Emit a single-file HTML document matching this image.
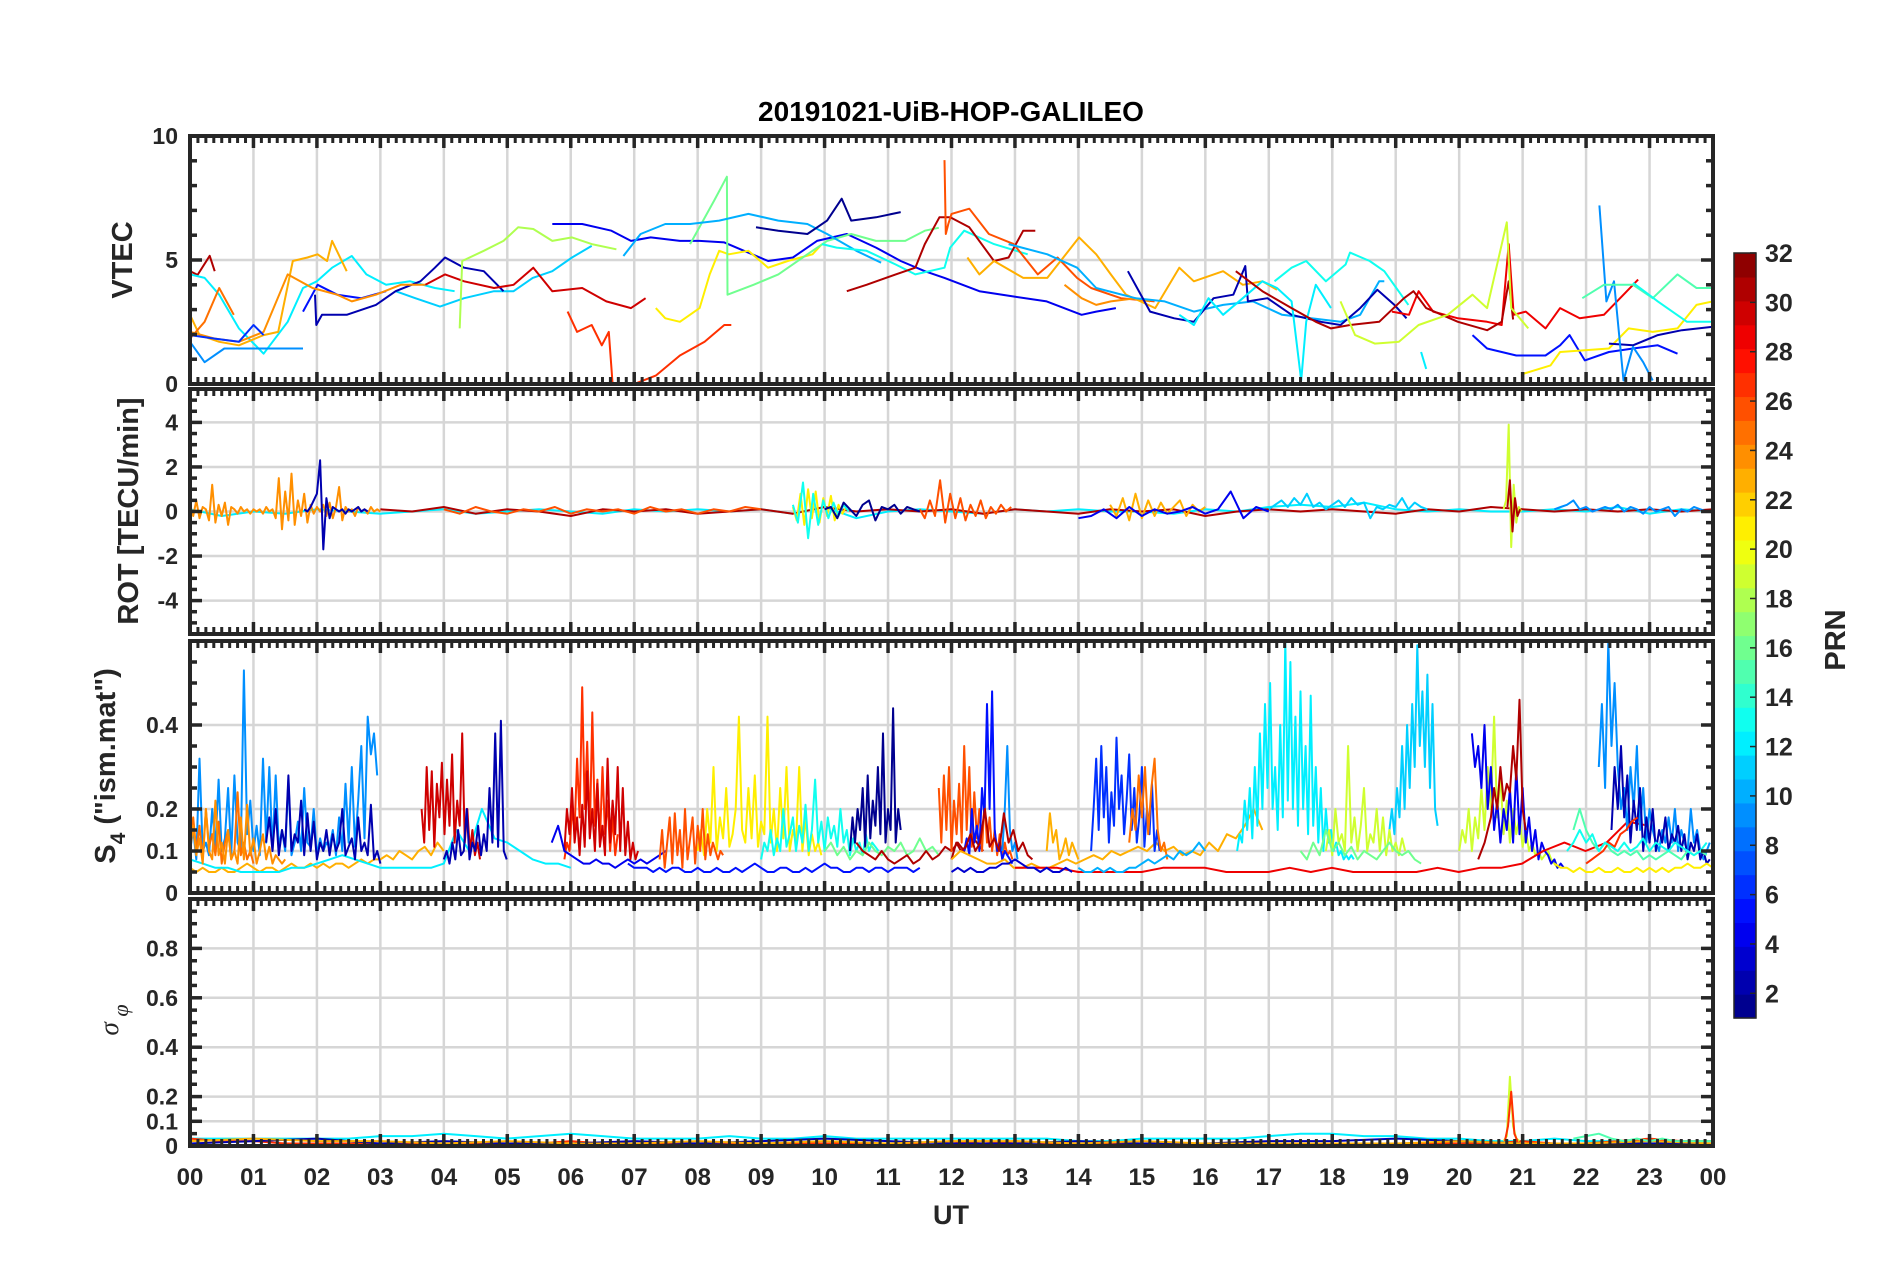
<!DOCTYPE html>
<html><head><meta charset="utf-8"><style>
html,body{margin:0;padding:0;background:#fff;}
svg{display:block;font-family:"Liberation Sans",Arial,sans-serif;}
</style></head><body>
<svg id="fig" width="1902" height="1272" viewBox="0 0 1902 1272"></svg>
<script>
// ---------- DATA ----------
const hourLabels = ["00","01","02","03","04","05","06","07","08","09","10","11","12","13","14","15","16","17","18","19","20","21","22","23","00"];
const vtecTicks = [0,5,10];
const rotTicks = [-4,-2,0,2,4];
const s4Ticks = [0,0.1,0.2,0.4];
const phiTicks = [0,0.1,0.2,0.4,0.6,0.8];
const cbTicks = [2,4,6,8,10,12,14,16,18,20,22,24,26,28,30,32];

const vtecPRN = [31,12,11,2,5,23,25,24,9,6,30,18,4,27,21,16,10,1,13,31,26,23,24,10,2,12,13,29,31,19,5,21,2,9,15,13,12];
const vtecTimes = [
[0,0.12,0.31,0.39],
[0,0.23,0.46,0.77,1.16,1.54,1.78,2.0,2.24,2.55,2.78,3.09,3.47,3.86,4.17],
[3.24,3.55,3.94,4.32,4.79,5.1,5.4,5.71,6.02,6.33],
[1.97,1.99,2.08,2.47,2.93,3.24,3.63,3.86,4.02,4.32,4.63,4.94],
[1.78,2.01,2.32,2.7,3.09],
[0,0.15,0.46,0.77,1.16,1.39,1.62,1.85,2.01,2.16,2.24,2.47],
[0,0.23,0.46,0.69],
[0,0.39,0.77,1.16,1.54,1.93,2.32,2.55,2.93,3.32,3.71],
[0,0.23,0.54,0.93,1.31,1.78],
[0,0.39,0.77,1.0,1.16],
[3.71,4.02,4.32,4.79,5.1,5.41,5.71,6.18,6.56,6.95,7.18],
[4.25,4.29,4.63,4.94,5.17,5.41,5.71,6.02,6.33,6.72],
[5.71,6.18,6.64,6.95,7.26,7.72,8.03,8.42,8.73,9.11,9.5,9.88,10.35,10.81,11.2,11.58,11.89,12.44,12.98,13.5,14.05,14.28,14.59],
[5.95,6.1,6.33,6.49,6.6,6.66,7.0,7.34,7.72,8.11,8.42,8.53],
[7.34,7.49,7.72,8.03,8.19,8.34,8.49,8.8,9.11,9.42,9.81,9.96],
[7.88,8.26,8.46,8.47,8.88,9.27,9.73,10.04,10.42,10.81,11.27,11.58,11.8],
[6.83,7.1,7.49,7.88,8.34,8.8,9.27,9.73,10.04,10.5,10.89],
[8.92,9.27,9.73,10.04,10.27,10.42,10.81,11.2],
[9.96,10.19,10.66,11.12,11.43,11.89,11.98,12.2,12.67,13.2],
[10.35,10.66,11.12,11.43,11.58,11.81,11.98,12.28,12.67,12.9,13.13,13.32],
[11.89,11.91,11.95,12.0,12.28,12.59,12.98,13.36,13.67,13.98,14.2,14.67,15.2],
[12.25,12.44,12.67,13.13,13.51,14.01,14.28,14.51,14.75,15.21,15.59,15.82,16.28,16.59,16.9,17.13],
[13.78,14.05,14.28,14.51,14.9,15.13],
[12.9,13.51,13.98,14.28,14.9,15.36,15.82,16.28,16.75,17.21,17.67,18.13,18.44,18.74,18.82],
[14.78,15.13,15.51,15.82,16.13,16.44,16.63,16.67,16.98,17.36,17.82,18.13,18.44,18.71,18.98,19.17],
[15.59,15.82,16.05,16.28,16.59,16.9,17.13,17.36,17.51,17.59,17.74,17.98],
[17.09,17.36,17.59,17.9,18.21,18.28,18.59,18.82,19.2],
[18.94,19.21,19.36,19.59,19.98,20.44,20.67,20.78,20.86,21.05,21.36,21.59,21.9,22.28,22.59,22.82],
[16.48,16.9,17.36,17.74,17.98,18.28,18.74,19.13,19.28,19.48,19.98,20.44,20.67,20.78,20.85],
[18.13,18.36,18.67,19.05,19.36,19.82,20.21,20.44,20.75,20.82,21.09],
[20.21,20.44,20.9,21.36,21.59,21.74,21.98,22.36,22.74,23.13,23.44],
[21.01,21.44,21.59,21.98,22.36,22.67,23.05,23.44,23.74,24],
[22.36,22.74,23.13,23.51,24],
[22.21,22.32,22.44,22.59,22.74,22.9,23.05],
[21.94,22.28,22.74,23.05,23.44,23.74,24],
[22.74,23.13,23.59,24],
[19.4,19.48]
];
const vtecVals = [
[4.55,4.4,5.17,4.55],
[4.42,4.28,3.6,2.24,1.22,2.51,3.87,4.14,4.69,5.16,4.42,4.0,4.14,3.87,3.74],
[3.74,3.46,3.12,3.46,3.74,3.74,4.28,4.55,5.1,5.57],
[3.6,2.38,2.79,2.79,3.19,3.74,4.14,4.69,5.1,4.69,4.55,3.74],
[2.92,4.0,3.6,3.46,3.74],
[2.79,1.97,1.7,1.56,1.97,2.1,4.96,5.1,5.23,4.96,5.77,4.55],
[1.83,2.51,3.87,2.79],
[2.1,1.83,1.7,2.1,4.42,3.87,3.6,3.33,3.6,4.0,4.0],
[1.7,0.88,1.43,1.43,1.43,1.43],
[1.97,1.83,1.7,2.38,1.97],
[4.0,4.42,4.14,3.87,4.0,4.69,3.74,3.87,3.33,3.06,3.46],
[2.24,4.96,5.37,5.77,6.32,6.25,5.77,5.91,5.64,5.43],
[6.45,6.45,6.18,5.77,5.91,5.77,5.77,5.71,5.37,4.96,5.1,5.77,6.05,5.5,4.96,4.55,4.28,3.74,3.53,3.33,2.79,2.92,3.06],
[2.92,2.1,2.38,1.56,2.1,0,0,0.34,1.15,1.7,2.38,2.38],
[3.06,2.65,2.51,3.06,4.42,5.37,5.23,5.37,4.69,4.96,5.23,5.64],
[5.64,7.4,8.36,3.6,4.0,4.42,5.23,5.77,6.05,5.77,5.77,6.18,6.3],
[5.16,6.05,6.45,6.45,6.59,6.86,6.59,6.45,6.05,5.37,4.89],
[6.32,6.18,6.05,6.59,7.47,6.59,6.72,6.93],
[5.64,5.5,5.37,4.82,4.42,4.69,5.5,6.18,5.64,5.23],
[3.74,4.0,4.42,4.69,5.64,6.72,6.72,6.32,4.96,5.1,6.18,6.18],
[9.03,6.05,6.45,6.86,7.07,6.05,5.64,4.42,5.1,4.28,3.87,3.46,3.33],
[5.1,4.42,4.96,4.28,4.28,5.91,5.23,4.42,3.6,3.06,4.69,4.14,4.55,4.0,4.14,3.8],
[4.0,3.46,3.19,3.33,3.46,3.33],
[5.64,5.23,4.69,3.87,3.46,3.33,2.92,3.19,3.33,2.79,2.65,2.51,2.79,4.14,4.14],
[4.55,2.92,2.65,2.51,3.46,3.6,4.76,3.33,3.46,2.79,2.51,2.38,3.06,3.8,3.19,2.65],
[2.79,2.38,3.46,2.79,3.46,4.14,3.87,3.33,0.14,2.51,4.0,3.06],
[4.14,4.69,4.96,4.14,4.82,5.3,4.96,4.55,3.19],
[2.92,2.79,3.74,2.92,2.65,2.51,2.38,5.64,2.79,2.92,2.24,3.06,2.65,2.79,3.6,4.21],
[4.55,3.74,3.06,2.51,2.24,2.38,2.51,3.46,3.74,3.06,2.51,2.17,2.51,4.14,2.6],
[3.33,1.97,1.63,1.7,2.38,2.79,3.6,3.06,6.52,3.06,2.24],
[1.97,1.43,1.15,1.15,1.56,1.97,0.95,1.29,1.43,1.56,1.22],
[0.41,0.75,1.29,1.36,1.43,2.24,2.1,2.24,3.19,3.33],
[1.63,1.56,1.97,2.17,2.31],
[7.2,3.33,4.14,0.14,1.5,0.88,0.14],
[3.46,4.0,4.0,3.46,4.42,3.87,3.87],
[4.08,3.33,2.51,2.51],
[1.29,0.61]
];

const rotPRN = [12,31,26,24,2,21,13,26,23,4,11,9,1,19,31];
const rotStart = [0,3,4,0,1.8,9.5,9.5,11.5,14.5,14,17,21.5,10,20.7,20.76];
const rotStep = [0.5,0.5,0.25,0.05,0.05,0.06,0.08,0.08,0.1,0.2,0.1,0.1,0.1,0.04,0.04];
const rotVals = [
[0.1,-0.2,0,-0.1,0.1,0,-0.1,0,0.1,-0.1,0,0.1,0,-0.1,0.1,0,0.1,0,0.1,-0.1,0.2,-0.3,0,0.1,0,-0.1,0.1,0,0.1,0,0,-0.1,0.1,0,0.2,0.3,0.2,0.4,0.1,0,0.1,0,0,0.1,0,0.2,-0.1,0.1,0],
[0.1,0,0.2,-0.1,0.1,0,-0.2,0.1,0,0.1,-0.1,0,0.1,-0.1,0.2,0,0.1,0,0.1,-0.1,0.1,0,-0.1,0.1,0,0.1,-0.2,0,0.1,0,0.1,0,-0.1,0.1,0,0.2,0.1,0,0.1,0,0.1,0,0.1],
[0.1,-0.1,0.2,0,-0.1,0.1,0,0.2,-0.1,0.1,0,0.1,-0.1,0.2,0,0.1,-0.1,0.1,0,0.2,0.1],
[0.3,-0.2,0.5,-0.3,0.2,0.1,-0.4,1.2,-0.5,0.3,-0.2,0.4,-0.6,0.2,0.1,-0.1,0.2,0,0.1,-0.1,0.1,0,0.1,-0.1,0.2,0,0.1,-0.3,1.5,-0.8,0.9,-0.4,1.7,-0.6,0.5,-0.2,0.8,-0.5,0.3,-0.1,0.2,0,0.3,-0.2,0.4,-0.3,0.2,1.1,-0.4,0.2,0,0.1,-0.2,0.2,0,0.1,-0.1,0.2,0,0.1,0],
[0.1,0,0.2,0.5,0.8,2.3,-1.7,0.6,-0.3,0.2,0.1,0,0.1,-0.1,0.1,0,0.1,0.2,0,0.1,0],
[0.2,-0.4,0.8,-0.6,1.0,-0.3,0.9,-0.5,0.6,-0.2,0.7,-0.4,0.3,-0.1,0.2],
[0.3,-0.5,1.3,-1.2,0.8,-0.6,0.5,-0.3,0.4,-0.2,0.3,0],
[0.1,-0.3,0.5,-0.2,1.4,-0.5,0.8,-0.3,0.6,-0.4,0.3,-0.2,0.5,-0.3,0.2,-0.1,0.3,0,0.2],
[0.3,-0.2,0.6,-0.4,0.8,-0.3,0.5,-0.2,0.4,-0.1,0.2,0.5,-0.2,0.3,0,0.2],
[-0.3,-0.2,0.1,-0.3,0.2,-0.2,0.1,-0.1,0,0.2,-0.1,0.1,0.9,-0.3,0.2,0],
[0.1,0.3,0.5,0.2,0.6,0.3,0.8,0.2,0.4,0.1,0.3,0.5,0.2,0.6,0.3,0.4,-0.3,0.2,0.1,0.3,0.2,0.6,0.1,0.4,0.2,0.1],
[0.1,0.2,0.3,0.5,0.1,0.2,0,0.1,0.2,0.1,0.3,0,0.2,0.1,-0.1,0.2,0,0.1,0.2,-0.2,0.1,0,0.2,0.1,0],
[0.1,0.2,-0.3,0.4,0.1,-0.2,0.3,0.5,-0.4,0.2,0.1,0.3,-0.1,0.2,0.1,0],
[0.1,0.5,3.9,-1.6,1.2,-0.5,0.2,0],
[0.2,1.4,-0.9,0.6,-0.2,0.1]
];

const s4PRN = [23,12,9,2,25,24,30,2,27,30,4,21,26,13,1,16,31,5,26,5,9,31,23,23,6,25,12,11,19,19,4,31,29,9,2,15,21,27,10,3,13,16];
const s4Start = [0,0,0,1.2,0,0,3.65,4.0,5.9,5.9,5.7,8.0,7.4,9.0,10.4,10.0,10.5,6.9,11.8,12.2,12.8,12.0,13.5,12.0,14.2,14.8,16.5,18.9,17.9,20.0,20.2,20.3,13,22.2,22.4,21.8,21.5,22.0,14.0,12.0,21.7,17.5];
const s4Step = [0.1,0.2,0.05,0.05,0.05,0.05,0.04,0.045,0.04,0.04,0.1,0.05,0.04,0.05,0.04,0.1,0.1,0.1,0.04,0.04,0.04,0.075,0.05,0.14,0.04,0.05,0.04,0.04,0.05,0.05,0.05,0.05,0.333,0.05,0.05,0.1,0.1,0.09,0.1,0.1,0.1,0.1];
const s4Vals = [
[0.06,0.05,0.06,0.05,0.05,0.06,0.05,0.05,0.06,0.07,0.06,0.05,0.06,0.06,0.05,0.06,0.07,0.06,0.06,0.07,0.06,0.07,0.06,0.07,0.07,0.06,0.07,0.08,0.07,0.08,0.08,0.09,0.08,0.1,0.09,0.08,0.1,0.11,0.09,0.12,0.1],
[0.08,0.07,0.06,0.06,0.05,0.05,0.05,0.05,0.06,0.06,0.07,0.08,0.09,0.08,0.07,0.06,0.06,0.06,0.06,0.06,0.07,0.15,0.1,0.2,0.13,0.12,0.1,0.08,0.07,0.07,0.06],
[0.1,0.15,0.08,0.32,0.1,0.12,0.09,0.2,0.11,0.27,0.1,0.13,0.25,0.09,0.28,0.12,0.1,0.53,0.14,0.22,0.1,0.16,0.09,0.32,0.12,0.3,0.1,0.28,0.11,0.15,0.1,0.27,0.09,0.12,0.17,0.1,0.25,0.12,0.11,0.2,0.09,0.13,0.1,0.12,0.11,0.15,0.09,0.18,0.1,0.26,0.12,0.3,0.11,0.22,0.35,0.13,0.42,0.33,0.38,0.28],
[0.12,0.18,0.1,0.2,0.09,0.15,0.11,0.28,0.1,0.14,0.12,0.22,0.09,0.19,0.1,0.17,0.08,0.12,0.1,0.15,0.09,0.14,0.1,0.12,0.2,0.09,0.11,0.13,0.08,0.18,0.1,0.12,0.09,0.21,0.08,0.1,0.07],
[0.12,0.18,0.1,0.16,0.08,0.2,0.11,0.14,0.09,0.17,0.07,0.12,0.15,0.08,0.1,0.24,0.09,0.12,0.08,0.1,0.07],
[0.1,0.16,0.09,0.13,0.07,0.2,0.1,0.08,0.22,0.09,0.12,0.07,0.15,0.08,0.1,0.07,0.18,0.08,0.21,0.09,0.13,0.07,0.1,0.14,0.08,0.11,0.07,0.09,0.08,0.07,0.08],
[0.2,0.12,0.3,0.15,0.29,0.11,0.26,0.18,0.31,0.14,0.27,0.16,0.33,0.12,0.22,0.16,0.38,0.12,0.2,0.1,0.15,0.09,0.12,0.08],
[0.08,0.1,0.07,0.12,0.08,0.15,0.09,0.1,0.2,0.08,0.12,0.1,0.16,0.09,0.14,0.1,0.25,0.12,0.38,0.11,0.41,0.1,0.08],
[0.08,0.12,0.1,0.2,0.15,0.32,0.18,0.49,0.2,0.36,0.14,0.43,0.16,0.27,0.12,0.3,0.14,0.22,0.1,0.18,0.09,0.14],
[0.1,0.2,0.14,0.25,0.12,0.18,0.09,0.21,0.11,0.29,0.13,0.2,0.1,0.26,0.11,0.16,0.09,0.32,0.12,0.22,0.14,0.3,0.1,0.25,0.09,0.17,0.08,0.12,0.08,0.1],
[0.12,0.16,0.1,0.09,0.08,0.07,0.07,0.08,0.07,0.07,0.06,0.07,0.08,0.07,0.08,0.07,0.08,0.09,0.1],
[0.1,0.15,0.09,0.2,0.12,0.3,0.1,0.18,0.13,0.25,0.11,0.14,0.2,0.42,0.15,0.12,0.25,0.13,0.28,0.11,0.17,0.14,0.42,0.12,0.2,0.1,0.25,0.13,0.3,0.1,0.15,0.12,0.3,0.1,0.18,0.09,0.14,0.1,0.12,0.09],
[0.08,0.15,0.06,0.12,0.18,0.07,0.19,0.09,0.15,0.06,0.2,0.08,0.13,0.18,0.07,0.16,0.1,0.2,0.08,0.14,0.09,0.12,0.1,0.08,0.1,0.09],
[0.08,0.12,0.1,0.15,0.09,0.13,0.1,0.2,0.11,0.14,0.18,0.1,0.16,0.12,0.21,0.1,0.15,0.27,0.12,0.17,0.1,0.18,0.13,0.16,0.11,0.2,0.12,0.15,0.09,0.13,0.1,0.12,0.09,0.14,0.1,0.12,0.11,0.1],
[0.1,0.18,0.12,0.2,0.15,0.25,0.11,0.28,0.13,0.22,0.16,0.3,0.14,0.38,0.12,0.2,0.15,0.44,0.12,0.2,0.15],
[0.1,0.12,0.09,0.11,0.08,0.1,0.09,0.12,0.1,0.09,0.11,0.1,0.12,0.09,0.1,0.13,0.1,0.11,0.09],
[0.12,0.1,0.09,0.08,0.1,0.08,0.07,0.08,0.09,0.07,0.08,0.1,0.08,0.09,0.11,0.1,0.12,0.1,0.14,0.12,0.1],
[0.07,0.06,0.06,0.06,0.05,0.06,0.05,0.06,0.06,0.05,0.05,0.06,0.05,0.05,0.06,0.05,0.05,0.06,0.05,0.06,0.07,0.06,0.05,0.05,0.06,0.06,0.05,0.05,0.06,0.05,0.06,0.07,0.06,0.06,0.05,0.05,0.06,0.06,0.05,0.06,0.06,0.05,0.06,0.06,0.06,0.05,0.06],
[0.25,0.12,0.28,0.15,0.3,0.1,0.22,0.14,0.26,0.12,0.35,0.15,0.3,0.11,0.24,0.13,0.2,0.1,0.22,0.12,0.18,0.1,0.15,0.09,0.14,0.08,0.12,0.09,0.1,0.08],
[0.1,0.13,0.09,0.2,0.12,0.16,0.1,0.25,0.18,0.45,0.2,0.48,0.15,0.1,0.12,0.08,0.1,0.09,0.08,0.07],
[0.1,0.2,0.35,0.15,0.1,0.12,0.08],
[0.08,0.12,0.1,0.11,0.14,0.1,0.12,0.2,0.11,0.13,0.1,0.19,0.12,0.15,0.1,0.12,0.09,0.08],
[0.1,0.19,0.12,0.15,0.08,0.1,0.13,0.09,0.12,0.1,0.08],
[0.08,0.1,0.09,0.08,0.07,0.07,0.08,0.06,0.06,0.07,0.06,0.06,0.07,0.08,0.07,0.08,0.09,0.08,0.1,0.09,0.1,0.11,0.1,0.12,0.1,0.11,0.09,0.1,0.09,0.12,0.1,0.14,0.13,0.16,0.2,0.15],
[0.1,0.2,0.32,0.15,0.35,0.18,0.3,0.12,0.24,0.16,0.37,0.2,0.28,0.14,0.22,0.33,0.15,0.25,0.12,0.18,0.3,0.11,0.2,0.14,0.26,0.1,0.15,0.1],
[0.12,0.2,0.15,0.28,0.18,0.3,0.14,0.25,0.32,0.15,0.1,0.12,0.08],
[0.1,0.14,0.12,0.22,0.15,0.25,0.13,0.3,0.16,0.38,0.2,0.45,0.25,0.5,0.2,0.3,0.15,0.4,0.18,0.6,0.22,0.55,0.2,0.42,0.16,0.48,0.2,0.35,0.14,0.47,0.16,0.3,0.12,0.25,0.1,0.2,0.12,0.15,0.1,0.12,0.09,0.1,0.08,0.09,0.08,0.09,0.08],
[0.15,0.2,0.14,0.25,0.18,0.35,0.2,0.4,0.25,0.45,0.3,0.59,0.35,0.48,0.3,0.52,0.25,0.45,0.2,0.16],
[0.1,0.15,0.09,0.2,0.12,0.14,0.1,0.35,0.12,0.18,0.1,0.16,0.25,0.1,0.14,0.12,0.2,0.1,0.18,0.09,0.15,0.1,0.12,0.09,0.13,0.1],
[0.1,0.15,0.12,0.2,0.1,0.18,0.13,0.25,0.15,0.3,0.2,0.42,0.18,0.28,0.14,0.22,0.12,0.2,0.14,0.18,0.11,0.15,0.1,0.12,0.09,0.1,0.08,0.09,0.1,0.08,0.07,0.06],
[0.38,0.3,0.35,0.25,0.4,0.2,0.3,0.15,0.22,0.12,0.2,0.15,0.25,0.12,0.3,0.14,0.25,0.12,0.18,0.1,0.15,0.08,0.12,0.1,0.09,0.07,0.08,0.06,0.07,0.06],
[0.08,0.1,0.12,0.15,0.18,0.25,0.2,0.3,0.22,0.26,0.24,0.35,0.27,0.46,0.2,0.15],
[0.06,0.06,0.06,0.05,0.05,0.05,0.05,0.06,0.06,0.06,0.05,0.05,0.05,0.06,0.05,0.06,0.05,0.05,0.05,0.05,0.06,0.05,0.06,0.06,0.07,0.1,0.12,0.1,0.12,0.17,0.16],
[0.3,0.45,0.25,0.6,0.35,0.5,0.3,0.2,0.25,0.15,0.3,0.2,0.35,0.15,0.25,0.12,0.2,0.15,0.12,0.1,0.15,0.12,0.18,0.12,0.2,0.1,0.15,0.12,0.1,0.2,0.12,0.15,0.1,0.08,0.1,0.12],
[0.15,0.3,0.2,0.35,0.18,0.28,0.12,0.22,0.15,0.25,0.1,0.18,0.12,0.2,0.1,0.15,0.12,0.18,0.1,0.14,0.12,0.16,0.1,0.14,0.08,0.12,0.1,0.14,0.08,0.1,0.07,0.08],
[0.15,0.2,0.15,0.12,0.1,0.12,0.1,0.09,0.1,0.09,0.1,0.08,0.09,0.08,0.09,0.1,0.09,0.08,0.1,0.09,0.1,0.09],
[0.07,0.06,0.06,0.05,0.06,0.05,0.05,0.06,0.05,0.05,0.06,0.05,0.05,0.06,0.05,0.06,0.05,0.06,0.05,0.06,0.06,0.07,0.06,0.06,0.07,0.06],
[0.07,0.08,0.09,0.1,0.12,0.11,0.14,0.15,0.17,0.18],
[0.06,0.05,0.05,0.06,0.05,0.06,0.05,0.05,0.06,0.06,0.07,0.08,0.07,0.08,0.09,0.08,0.1,0.09,0.1,0.12,0.1],
[0.05,0.06,0.05,0.06,0.05,0.05,0.06,0.06,0.07,0.07,0.08,0.07,0.06,0.06,0.05,0.06,0.05,0.05,0.06,0.05],
[0.1,0.12,0.15,0.12,0.14,0.1,0.12,0.11,0.1,0.12,0.1,0.11,0.13,0.1,0.12,0.11,0.1,0.12,0.11,0.1,0.09,0.1,0.12],
[0.1,0.08,0.12,0.09,0.15,0.1,0.12,0.09,0.11,0.08,0.1,0.09,0.08,0.1,0.12,0.1,0.09,0.1,0.08,0.07]
];

const phiPRN = [12,27,2,23,15,19,27];
const phiStart = [0,0,0,0,21.8,20.7,20.72];
const phiStep = [0.5,0.5,1,1,0.2,0.05,0.05];
const phiVals = [
[0.03,0.03,0.03,0.03,0.03,0.03,0.04,0.04,0.05,0.04,0.03,0.04,0.05,0.04,0.03,0.03,0.03,0.04,0.03,0.03,0.04,0.03,0.03,0.03,0.03,0.03,0.03,0.03,0.02,0.02,0.03,0.03,0.03,0.03,0.04,0.05,0.05,0.04,0.04,0.03,0.03,0.02,0.02,0.03,0.02,0.02,0.02,0.02,0.02],
[0.03,0.02,0.02,0.01,0.01,0.01,0.01,0.01,0.01,0.01,0.01,0.01,0.02,0.01,0.01,0.01,0.01,0.01,0.01,0.01,0.01,0.01,0.01,0.01,0.02,0.01,0.02,0.01,0.01,0.01,0.01,0.01,0.01,0.01,0.01,0.01,0.01,0.01,0.01,0.01,0.01,0.01,0.02,0.01,0.01,0.02,0.03,0.02,0.02],
[0.01,0.02,0.03,0.01,0.02,0.01,0.01,0.02,0.01,0.02,0.03,0.02,0.01,0.01,0.02,0.01,0.01,0.02,0.02,0.03,0.02,0.01,0.01,0.01,0.01],
[0.02,0.03,0.02,0.02,0.01,0.02,0.01,0.01,0.02,0.01,0.02,0.01,0.02,0.02,0.01,0.02,0.01,0.01,0.01,0.01,0.02,0.01,0.01,0.02,0.01],
[0.03,0.04,0.05,0.03,0.02,0.03,0.02,0.03,0.02,0.02,0.02,0.02],
[0.02,0.04,0.28,0.08,0.03,0.02],
[0.02,0.08,0.22,0.05,0.02]
];

// ---------- LAYOUT ----------
const NS = "http://www.w3.org/2000/svg";
const svg = document.getElementById('fig');
const X0 = 190, X1 = 1713;
const panels = [
  {key:'vtec', top:136, bot:384, ymin:0, ymax:10, ticks:vtecTicks, minor:1, grid:[5]},
  {key:'rot', top:389, bot:634, ymin:-5.5, ymax:5.5, ticks:rotTicks, minor:0.5, grid:[-4,-2,0,2,4]},
  {key:'s4', top:641, bot:893, ymin:0, ymax:0.6, ticks:s4Ticks, minor:0.05, grid:[0.1,0.2,0.4]},
  {key:'phi', top:899, bot:1146, ymin:0, ymax:1, ticks:phiTicks, minor:0.05, grid:[0.1,0.2,0.4,0.6,0.8]}
];
const xs = h => X0 + (X1 - X0) * h / 24;
function ys(p, v){ return p.bot - (p.bot - p.top) * (v - p.ymin) / (p.ymax - p.ymin); }

function jet(i, n){
  const v = (i + 0.5) / n;
  const f = t => Math.max(0, Math.min(1, t));
  const r = f(Math.min(4*v - 1.5, -4*v + 4.5));
  const g = f(Math.min(4*v - 0.5, -4*v + 3.5));
  const b = f(Math.min(4*v + 0.5, -4*v + 2.5));
  return `rgb(${Math.round(r*255)},${Math.round(g*255)},${Math.round(b*255)})`;
}
const prnColor = prn => jet(prn - 1, 32);

function el(tag, attrs, parent){
  const e = document.createElementNS(NS, tag);
  for (const k in attrs) e.setAttribute(k, attrs[k]);
  (parent || svg).appendChild(e);
  return e;
}
const AX = '#262626';

const defs = el('defs', {});
panels.forEach(p => {
  const cp = el('clipPath', {id:'clip-'+p.key}, defs);
  el('rect', {x:X0, y:p.top, width:X1-X0, height:p.bot-p.top}, cp);
});

panels.forEach(p => {
  const g = el('g', {});
  
  
  for (let h = 1; h < 24; h++) {
    const gl = el('line', {x1:xs(h), x2:xs(h), y1:p.top, y2:p.bot, stroke:'#d6d6d6', 'stroke-width':2.5}, g);
    
    
  }
  p.grid.forEach(v => {
    const gl = el('line', {x1:X0, x2:X1, y1:ys(p,v), y2:ys(p,v), stroke:'#d6d6d6', 'stroke-width':2.5}, g);
    
    
  });
});

function drawPanelSeries(p, prns, getTV){
  const g = el('g', {'clip-path':'url(#clip-'+p.key+')'});
  
  
  prns.forEach((prn, i) => {
    const tv = getTV(i);
    const pts = tv.t.map((t, j) => xs(t).toFixed(1) + ',' + ys(p, tv.v[j]).toFixed(1)).join(' ');
    const pl = el('polyline', {points:pts, fill:'none', stroke:prnColor(prn), 'stroke-width':2, 'stroke-linejoin':'round'}, g);
    
    
  });
}
function stepTV(start, step, vals){ return i => ({t: vals[i].map((_, j) => start[i] + j*step[i]), v: vals[i]}); }
drawPanelSeries(panels[0], vtecPRN, i => ({t: vtecTimes[i], v: vtecVals[i]}));
drawPanelSeries(panels[1], rotPRN, stepTV(rotStart, rotStep, rotVals));
drawPanelSeries(panels[2], s4PRN, stepTV(s4Start, s4Step, s4Vals));
drawPanelSeries(panels[3], phiPRN, stepTV(phiStart, phiStep, phiVals));

panels.forEach(p => {
  const g = el('g', {stroke:AX});
  
  
  for (let k = 0; k <= 24*8; k++) {
    const h = k / 8, x = xs(h);
    const len = (k % 8 === 0) ? 12 : 7;
    const sw = (k % 8 === 0) ? 3.5 : 3;
    el('line', {x1:x, x2:x, y1:p.bot, y2:p.bot - len, 'stroke-width':sw}, g);
    el('line', {x1:x, x2:x, y1:p.top, y2:p.top + len, 'stroke-width':sw}, g);
  }
  const nMin = Math.round((p.ymax - p.ymin) / p.minor);
  for (let k = 0; k <= nMin; k++) {
    const v = p.ymin + k * p.minor;
    const major = p.ticks.some(t => Math.abs(t - v) < 1e-6);
    const len = major ? 12 : 7;
    const y = ys(p, v);
    el('line', {x1:X0, x2:X0 + len, y1:y, y2:y, 'stroke-width':3.5}, g);
    el('line', {x1:X1, x2:X1 - len, y1:y, y2:y, 'stroke-width':3.5}, g);
  }
  el('rect', {x:X0, y:p.top, width:X1-X0, height:p.bot-p.top, fill:'none', 'stroke-width':4}, g);
  p.ticks.forEach(v => {
    const t = el('text', {x:178, y:ys(p, v) + 8, 'text-anchor':'end', 'font-size':23, 'font-weight':'bold', fill:AX, stroke:'none'});
    t.textContent = String(v);
    
    
  });
});

hourLabels.forEach((lab, i) => {
  const t = el('text', {x:xs(i), y:1185, 'text-anchor':'middle', 'font-size':24, 'font-weight':'bold', fill:AX});
  t.textContent = lab;
  
  
});

const CB = {x:1734, w:22, top:253, bot:1018};
const cbg = el('g', {});


for (let i = 0; i < 32; i++) {
  const h = (CB.bot - CB.top) / 32;
  el('rect', {x:CB.x, y:CB.bot - (i+1)*h, width:CB.w, height:h + 0.6, fill:jet(i, 32)}, cbg);
}
el('rect', {x:CB.x, y:CB.top, width:CB.w, height:CB.bot-CB.top, fill:'none', stroke:AX, 'stroke-width':1.5}, cbg);
cbTicks.forEach(v => {
  const y = CB.bot - (CB.bot - CB.top) * (v - 1) / 31;
  el('line', {x1:CB.x + CB.w - 6, x2:CB.x + CB.w, y1:y, y2:y, stroke:AX, 'stroke-width':1.5}, cbg);
  const t = el('text', {x:CB.x + CB.w + 9, y:y + 9, 'font-size':25, 'font-weight':'bold', fill:AX}, cbg);
  t.textContent = String(v);
  
  
});
</script>
<script>
(function(){
  const NS = "http://www.w3.org/2000/svg";
  const svg = document.getElementById('fig');
  function txt(str, attrs, name){
    const t = document.createElementNS(NS, 'text');
    for (const k in attrs) t.setAttribute(k, attrs[k]);
    t.textContent = str;
    
    
    svg.appendChild(t);
    return t;
  }
  txt('20191021-UiB-HOP-GALILEO', {x:951, y:121, 'text-anchor':'middle', 'font-size':28, 'font-weight':'bold', fill:'#000'}, 'chart-title');
  txt('UT', {x:951, y:1224, 'text-anchor':'middle', 'font-size':27, 'font-weight':'bold', fill:'#262626'}, 'x-axis-title');
  txt('VTEC', {x:0, y:0, transform:'translate(132,260) rotate(-90)', 'text-anchor':'middle', 'font-size':29, 'font-weight':'bold', fill:'#262626'}, 'vtec-axis-title');
  txt('ROT [TECU/min]', {x:0, y:0, transform:'translate(138,511) rotate(-90)', 'text-anchor':'middle', 'font-size':29, 'font-weight':'bold', fill:'#262626'}, 'rot-axis-title');
  const s4 = txt('', {x:0, y:0, transform:'translate(115,766) rotate(-90)', 'text-anchor':'middle', 'font-size':29, 'font-weight':'bold', fill:'#262626'}, 's4-axis-title');
  const a = document.createElementNS(NS, 'tspan'); a.textContent = 'S'; s4.appendChild(a);
  const b = document.createElementNS(NS, 'tspan'); b.setAttribute('dy', '10'); b.setAttribute('font-size', '21'); b.textContent = '4'; s4.appendChild(b);
  const c = document.createElementNS(NS, 'tspan'); c.setAttribute('dy', '-10'); c.textContent = ' ("ism.mat")'; s4.appendChild(c);
  const ph = txt('', {x:0, y:0, transform:'translate(118,1020) rotate(-90)', 'text-anchor':'middle', 'font-size':27, 'font-style':'italic', fill:'#262626', 'font-family':'"Liberation Serif", serif'}, 'phi-axis-title');
  const d = document.createElementNS(NS, 'tspan'); d.textContent = 'σ'; ph.appendChild(d);
  const e = document.createElementNS(NS, 'tspan'); e.setAttribute('dy', '10'); e.setAttribute('font-size', '22'); e.textContent = ' φ'; ph.appendChild(e);
  txt('PRN', {x:0, y:0, transform:'translate(1845,640) rotate(-90)', 'text-anchor':'middle', 'font-size':29, 'font-weight':'bold', fill:'#262626'}, 'colorbar-title');
})();
</script>
</body></html>
